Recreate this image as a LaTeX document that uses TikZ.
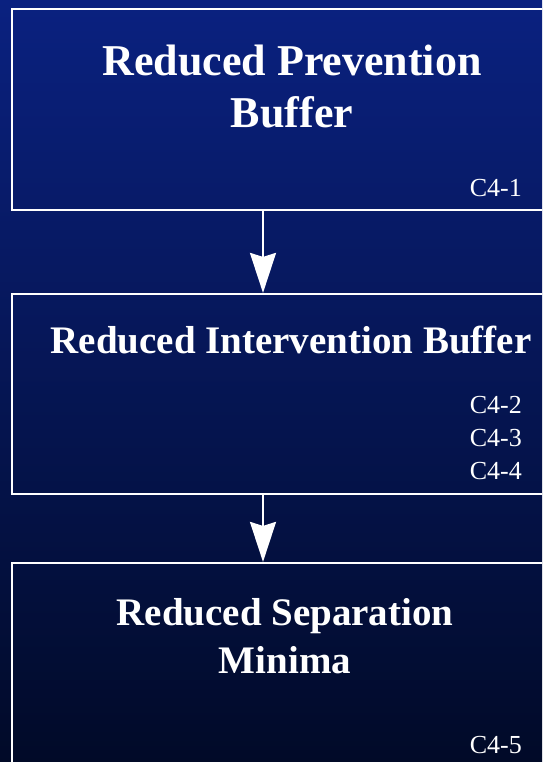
\documentclass[tikz,border=0pt]{standalone}
\usepackage{fontspec}
\setmainfont{Liberation Serif}
\definecolor{navytop}{HTML}{0A2180}
\definecolor{navymid}{HTML}{041856}
\definecolor{navybot}{HTML}{010A28}
\usetikzlibrary{arrows.meta, calc}

\tikzset{
  stage/.style={draw=white, line width=2.2pt, minimum width=560pt, inner sep=0pt},
  title/.style={text=white, align=center, anchor=base,
                font=\bfseries\fontsize{39}{48}\selectfont},
  code/.style={text=white, align=right, anchor=base east, inner sep=0pt,
               font=\fontsize{26}{33}\selectfont},
  flow/.style={draw=white, line width=2pt,
               -{Stealth[length=40pt, width=26pt, inset=4pt]}}
}

\begin{document}
\begin{tikzpicture}[x=1pt, y=-1pt]
    \useasboundingbox (0,0) rectangle (542,762);
    \shade[top color=navytop, middle color=navymid, bottom color=navybot]
      (0,0) rectangle (542,762);
    \clip (0,0) rectangle (542,762);
    \node[stage, minimum height=201pt] (prevent) at (292,109.5) {};
    \node[stage, minimum height=200pt] (interv) at (292,394) {};
    \node[stage, minimum height=210pt] (separ) at (292,668) {};
    \node[title, font=\bfseries\fontsize{44}{52}\selectfont] (preventtxt)
      at (292,128) {Reduced Prevention\\Buffer};
    \node[title] (intervtxt) at (291,353) {Reduced Intervention Buffer};
    \node[title] (separtxt) at (285,673) {Reduced Separation\\Minima};
    \node[code] (preventcode) at (522,196) {C4-1};
    \node[code] (intervcode) at (522,479) {C4-2\\C4-3\\C4-4};
    \node[code] (separcode) at (522,753) {C4-5};
    \draw[flow] ([xshift=-29pt]prevent.south) -- ([xshift=-29pt]interv.north);
    \draw[flow] ([xshift=-29pt]interv.south) -- ([xshift=-29pt]separ.north);
  \end{tikzpicture}
\end{document}
